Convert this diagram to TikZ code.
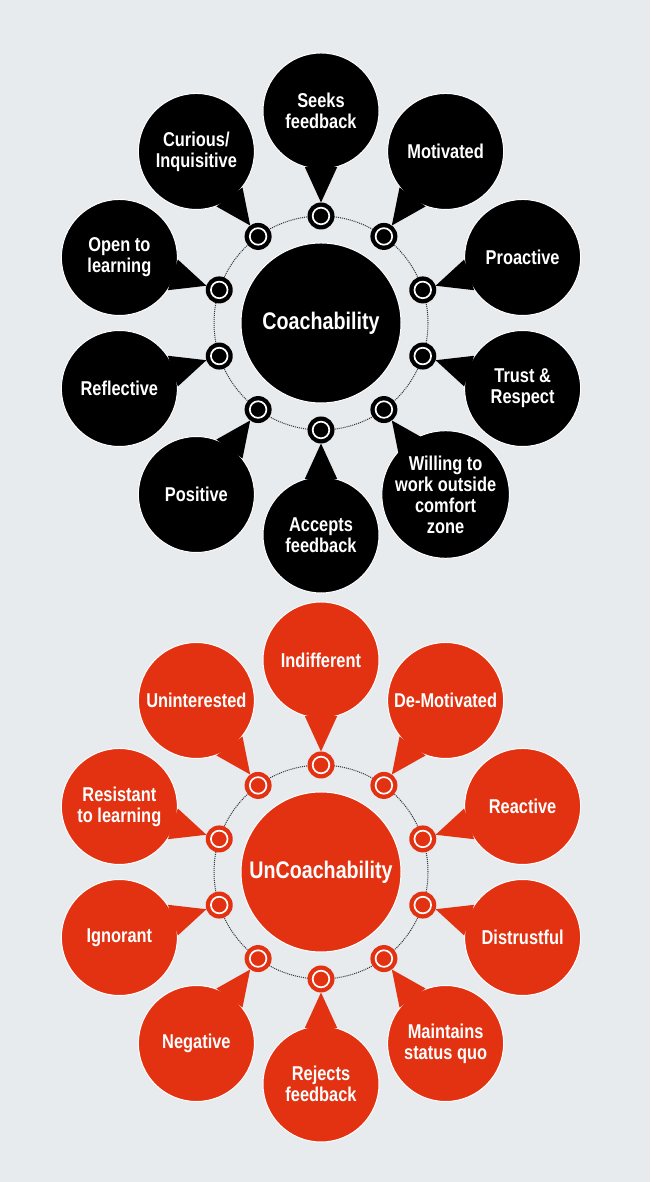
\documentclass[tikz,border=0pt]{standalone}
\usepackage{fontspec}
\setmainfont{Liberation Sans}[FakeStretch=0.82]
\usepackage{tikz}
\usetikzlibrary{calc}
\definecolor{bggray}{RGB}{231,235,238}
\definecolor{uncred}{RGB}{226,50,18}
\tikzset{
  bubble/.style={circle, fill=#1, draw=white, line width=1pt, minimum size=116pt,
    inner sep=0pt, text=white, align=center, font=\bfseries\fontsize{20}{21}\selectfont},
  hub/.style={circle, fill=#1, draw=white, line width=1pt, minimum size=160pt,
    inner sep=0pt, text=white, font=\bfseries\fontsize{24}{28}\selectfont},
  dot/.style={circle, fill=#1, minimum size=27pt, inner sep=0pt,
    path picture={\draw[white, line width=1.7pt] (path picture bounding box.center) circle (8.3pt);}},
  ring/.style={densely dotted, line width=1pt, black!80}
}

\begin{document}
\begin{tikzpicture}[x=1pt, y=1pt]
\fill[bggray] (0,0) rectangle (650,1182);

% Coachability
\coordinate (c1) at (321,859);
\draw[ring] (c1) circle (107pt);
\node[hub=black] (hub1) at (c1) {Coachability};
\foreach \a/\txt [count=\i] in {90/{Seeks\\feedback}, 54/Motivated, 18/Proactive,
    -18/{Trust \&\\Respect}, -54/{Willing to\\work outside\\comfort\\zone},
    -90/{Accepts\\feedback}, -126/Positive, -162/Reflective,
    162/{Open to\\learning}, 126/{Curious/\\Inquisitive}}{
  \node[bubble=black] (b\i) at ($(c1)+(\a:212)$) {\txt};
  \node[dot=black] (s\i) at ($(c1)+(\a:107)$) {};
  \fill[black] ($(b\i)+(\a+196:58.5)$) -- ($(s\i)!13.5pt!(b\i)$)
    -- ($(b\i)+(\a+164:58.5)$) -- cycle;
}

% UnCoachability
\coordinate (c2) at (321,310);
\draw[ring] (c2) circle (107pt);
\node[hub=uncred] (hub2) at (c2) {UnCoachability};
\foreach \a/\txt [count=\i] in {90/Indifferent, 54/De-Motivated, 18/Reactive,
    -18/Distrustful, -54/{Maintains\\status quo},
    -90/{Rejects\\feedback}, -126/Negative, -162/Ignorant,
    162/{Resistant\\to learning}, 126/Uninterested}{
  \node[bubble=uncred] (u\i) at ($(c2)+(\a:212)$) {\txt};
  \node[dot=uncred] (t\i) at ($(c2)+(\a:107)$) {};
  \fill[uncred] ($(u\i)+(\a+196:58.5)$) -- ($(t\i)!13.5pt!(u\i)$)
    -- ($(u\i)+(\a+164:58.5)$) -- cycle;
}
\end{tikzpicture}
\end{document}
